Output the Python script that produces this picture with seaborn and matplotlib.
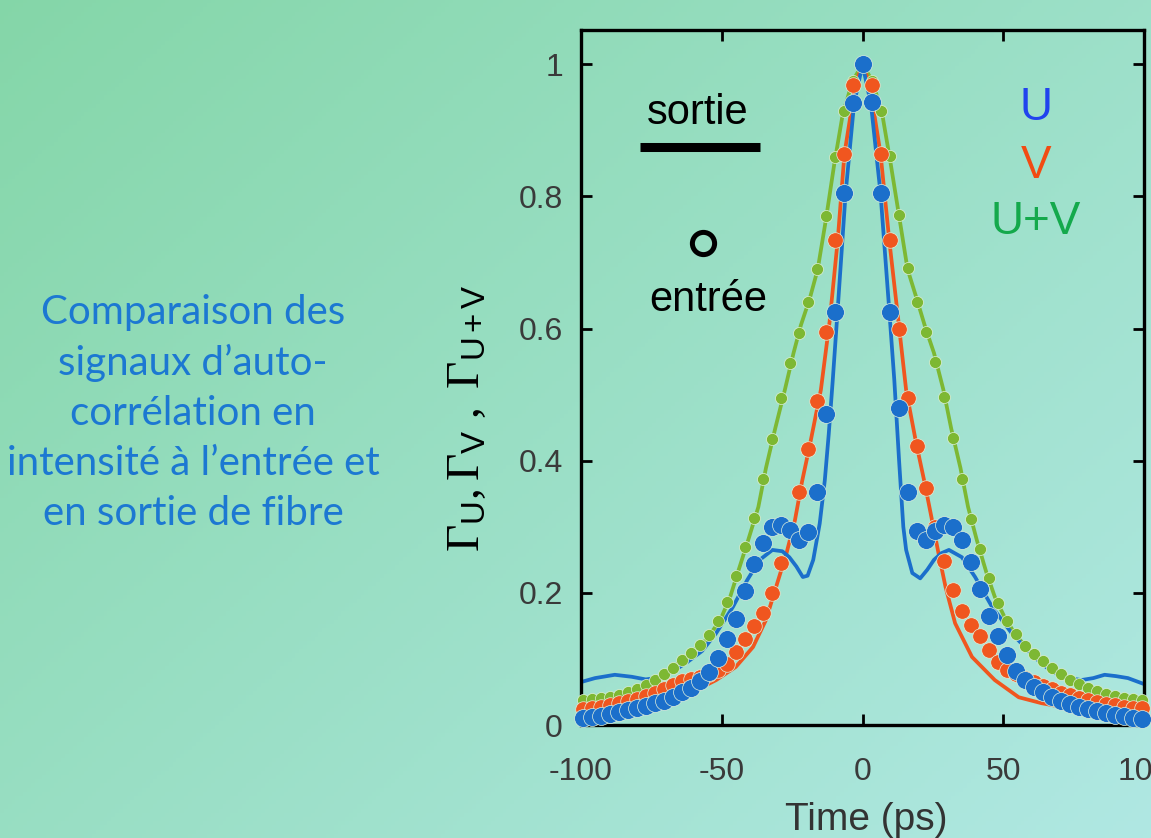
import numpy as np
import matplotlib
matplotlib.use("Agg")
import matplotlib.pyplot as plt
from matplotlib.lines import Line2D
import seaborn as sns

# --- données ---
# points expérimentaux (entrée), pas de 3.2 ps
t_dots = [-99.2, -96.0, -92.8, -89.6, -86.4, -83.2, -80.0, -76.8, -73.6, -70.4,
          -67.2, -64.0, -60.8, -57.6, -54.4, -51.2, -48.0, -44.8, -41.6, -38.4,
          -35.2, -32.0, -28.8, -25.6, -22.4, -19.2, -16.0, -12.8, -9.6, -6.4,
          -3.2, 0.0, 3.2, 6.4, 9.6, 12.8, 16.0, 19.2, 22.4, 25.6,
          28.8, 32.0, 35.2, 38.4, 41.6, 44.8, 48.0, 51.2, 54.4, 57.6,
          60.8, 64.0, 67.2, 70.4, 73.6, 76.8, 80.0, 83.2, 86.4, 89.6,
          92.8, 96.0, 99.2]

u_dots = [0.010, 0.012, 0.014, 0.017, 0.020, 0.023, 0.026, 0.029, 0.033, 0.037,
          0.043, 0.050, 0.056, 0.066, 0.080, 0.102, 0.130, 0.160, 0.203, 0.243,
          0.275, 0.300, 0.303, 0.295, 0.280, 0.292, 0.352, 0.470, 0.625, 0.805,
          0.942, 1.000, 0.943, 0.805, 0.625, 0.480, 0.352, 0.294, 0.280, 0.293,
          0.303, 0.300, 0.280, 0.246, 0.206, 0.165, 0.134, 0.106, 0.082, 0.068,
          0.058, 0.050, 0.043, 0.037, 0.032, 0.028, 0.024, 0.021, 0.018, 0.015,
          0.013, 0.011, 0.009]

v_dots = [0.024, 0.026, 0.028, 0.031, 0.033, 0.036, 0.040, 0.044, 0.049, 0.055,
          0.061, 0.066, 0.070, 0.073, 0.077, 0.083, 0.093, 0.110, 0.130, 0.150,
          0.170, 0.200, 0.245, 0.295, 0.352, 0.418, 0.490, 0.595, 0.734, 0.865,
          0.968, 1.000, 0.968, 0.865, 0.734, 0.600, 0.495, 0.422, 0.358, 0.300,
          0.248, 0.205, 0.173, 0.152, 0.134, 0.114, 0.096, 0.084, 0.077, 0.071,
          0.065, 0.059, 0.054, 0.049, 0.045, 0.041, 0.038, 0.035, 0.032, 0.030,
          0.028, 0.026, 0.025]

uv_dots = [0.038, 0.039, 0.041, 0.043, 0.046, 0.050, 0.055, 0.061, 0.068, 0.077,
           0.087, 0.098, 0.109, 0.121, 0.136, 0.157, 0.186, 0.226, 0.270, 0.314,
           0.372, 0.433, 0.495, 0.548, 0.594, 0.640, 0.690, 0.770, 0.860, 0.930,
           0.975, 1.000, 0.975, 0.930, 0.862, 0.772, 0.692, 0.640, 0.595, 0.550,
           0.497, 0.435, 0.372, 0.312, 0.267, 0.222, 0.185, 0.158, 0.137, 0.120,
           0.108, 0.097, 0.087, 0.077, 0.068, 0.062, 0.056, 0.051, 0.047, 0.044,
           0.041, 0.039, 0.038]

# courbes simulées (sortie)
t_u_line = [-100, -95, -88, -82, -77, -72, -67, -62, -57, -52, -46, -41, -36.5,
            -32, -28.5, -26, -23.5, -21.2, -19.5, -17.5, -15.2, -13.4, -12, -10.6,
            -8.8, -6, -3, 0, 3, 6.4, 9.5, 11.3, 13, 14.5, 15.5, 17.7, 20.5, 23,
            25.4, 28, 30.7, 35.3, 40, 46, 53, 61, 66, 70.7, 77.7, 82, 86, 90,
            94.3, 100]
u_line = [0.065, 0.071, 0.076, 0.073, 0.069, 0.072, 0.082, 0.096, 0.112, 0.139,
          0.179, 0.219, 0.250, 0.265, 0.263, 0.254, 0.240, 0.224, 0.226, 0.250,
          0.305, 0.370, 0.440, 0.520, 0.630, 0.805, 0.940, 1.000, 0.940, 0.805,
          0.628, 0.522, 0.400, 0.300, 0.265, 0.230, 0.222, 0.235, 0.250, 0.260,
          0.265, 0.254, 0.224, 0.179, 0.139, 0.103, 0.085, 0.073, 0.068, 0.071,
          0.076, 0.074, 0.071, 0.062]

t_v_line = [-100, -90.8, -79, -67, -59, -52, -45, -38.9, -34.3, -30.7, -27, -24,
            -21.5, -18.5, -14.8, -11.7, -8.8, -6.4, -2.5, 0, 2.5, 6.4, 9.5, 12.8,
            15.5, 19, 22, 24.7, 27, 29.5, 32.9, 38.9, 47, 55.5, 63.6, 76.7, 88, 100]
v_line = [0.018, 0.023, 0.027, 0.038, 0.053, 0.068, 0.088, 0.118, 0.159, 0.209,
          0.260, 0.310, 0.368, 0.428, 0.507, 0.610, 0.734, 0.865, 0.970, 1.000,
          0.970, 0.865, 0.734, 0.610, 0.507, 0.428, 0.368, 0.310, 0.260, 0.209,
          0.154, 0.103, 0.068, 0.042, 0.033, 0.023, 0.020, 0.016]

t_uv_line = [-100, -91, -81, -73, -67, -61, -55.5, -50.5, -47, -44.2, -40.6, -37,
             -34.3, -31, -27.6, -24.5, -21.9, -18.7, -15.9, -13, -10, -7, -3.5, 0,
             3.5, 7, 10, 13.2, 16, 19.2, 22.3, 25.4, 28.7, 31.5, 34.8, 37.5, 40.6,
             44, 47, 50.5, 54, 59, 66, 73, 82, 92, 100]
uv_line = [0.038, 0.042, 0.053, 0.068, 0.088, 0.109, 0.129, 0.159, 0.194, 0.232,
           0.280, 0.330, 0.389, 0.449, 0.507, 0.563, 0.605, 0.646, 0.690, 0.765,
           0.850, 0.925, 0.975, 1.000, 0.975, 0.925, 0.850, 0.765, 0.690, 0.646,
           0.602, 0.563, 0.508, 0.449, 0.389, 0.330, 0.280, 0.231, 0.194, 0.163,
           0.139, 0.113, 0.088, 0.068, 0.053, 0.042, 0.038]

x_ticks = [-100, -50, 0, 50, 100]
x_tick_labels = ["-100", "-50", "0", "50", "100"]
y_ticks = [0, 0.2, 0.4, 0.6, 0.8, 1]
y_tick_labels = ["0", "0.2", "0.4", "0.6", "0.8", "1"]

C_U = "#1b6fcb"
C_V = "#f0561f"
C_UV = "#7db833"

sns.set_style("ticks")
plt.rcParams["font.family"] = ["Liberation Sans", "DejaVu Sans"]
plt.rcParams["mathtext.fontset"] = "custom"
plt.rcParams["mathtext.rm"] = "Liberation Serif"
plt.rcParams["mathtext.sf"] = "Liberation Sans"
plt.rcParams["mathtext.it"] = "Liberation Serif:italic"
plt.rcParams["axes.unicode_minus"] = False

W, H = 1151, 838
fig = plt.figure(figsize=(W / 100, H / 100), dpi=100)

# fond dégradé vert -> turquoise
bg = fig.add_axes([0, 0, 1, 1], zorder=-10)
yy, xx = np.mgrid[0:1:200j, 0:1:300j]
g = (0.55 * xx + 0.45 * yy)[..., None]
c0 = np.array([0.52, 0.84, 0.66])
c1 = np.array([0.69, 0.91, 0.89])
bg.imshow(c0 * (1 - g) + c1 * g, aspect="auto", extent=[0, 1, 0, 1])
bg.axis("off")

ax = fig.add_axes([581 / W, 113 / H, 563 / W, 695 / H])
ax.patch.set_alpha(0)

# U+V, puis V, puis U par-dessus
for t_l, y_l, t_d, y_d, col, ms in [
    (t_uv_line, uv_line, t_dots, uv_dots, C_UV, 75),
    (t_v_line, v_line, t_dots, v_dots, C_V, 125),
    (t_u_line, u_line, t_dots, u_dots, C_U, 165),
]:
    sns.lineplot(x=t_l, y=y_l, ax=ax, color=col, linewidth=2.7,
                 sort=False, estimator=None, legend=False)
    sns.scatterplot(x=t_d, y=y_d, ax=ax, color=col, s=ms,
                    edgecolor="#dff0dc", linewidth=0.5, legend=False,
                    clip_on=False, zorder=3)

ax.set_xlim(-100, 100)
ax.set_ylim(0, 1.052)
ax.set_xticks(x_ticks)
ax.set_xticklabels(x_tick_labels)
ax.set_yticks(y_ticks)
ax.set_yticklabels(y_tick_labels)
ax.tick_params(direction="in", length=8, width=2, top=True, right=True,
               labelsize=23, labelcolor="#3a3a3a", color="black")
ax.tick_params(axis="x", pad=23)
ax.tick_params(axis="y", pad=13)
for sp in ax.spines.values():
    sp.set_linewidth(2.4)
    sp.set_color("black")
ax.set_xlabel("")
ax.set_ylabel("")

fig.text(866 / W, 1 - 830 / H, "Time (ps)", ha="center", va="baseline",
         fontsize=28, color="#333333")
fig.text(467 / W, 1 - 418 / H,
         r"$\Gamma_{\mathsf{U}}, \Gamma_{\mathsf{V}}\ ,\ \Gamma_{\mathsf{U+V}}$",
         rotation=90, ha="center", va="center", fontsize=34, color="black")

# légende dessinée à la main
fig.text(698 / W, 1 - 113 / H, "sortie", ha="center", va="center",
         fontsize=30, color="black")
fig.add_artist(Line2D([640 / W, 760 / W], [1 - 147 / H, 1 - 147 / H],
                      color="black", lw=6.5, solid_capstyle="butt"))
fig.add_artist(Line2D([703 / W], [1 - 243 / H], marker="o", ms=16,
                      mfc="none", mec="black", mew=3.6, linestyle="none"))
fig.text(708 / W, 1 - 300 / H, "entrée", ha="center", va="center",
         fontsize=30, color="black")

fig.text(1036 / W, 1 - 108 / H, "U", ha="center", va="center", fontsize=33, color="#2144ee")
fig.text(1036 / W, 1 - 166 / H, "V", ha="center", va="center", fontsize=33, color="#f24b12")
fig.text(1036 / W, 1 - 222 / H, "U+V", ha="center", va="center", fontsize=33, color="#14a94c")

fig.text(193 / W, 1 - 413 / H,
         "Comparaison des\nsignaux d’auto-\ncorrélation en\nintensité à l’entrée et\nen sortie de fibre",
         ha="center", va="center", fontsize=29, linespacing=1.43,
         color="#1c78d2", family=["Lato", "DejaVu Sans"])

fig.savefig("out.png", dpi=100)
